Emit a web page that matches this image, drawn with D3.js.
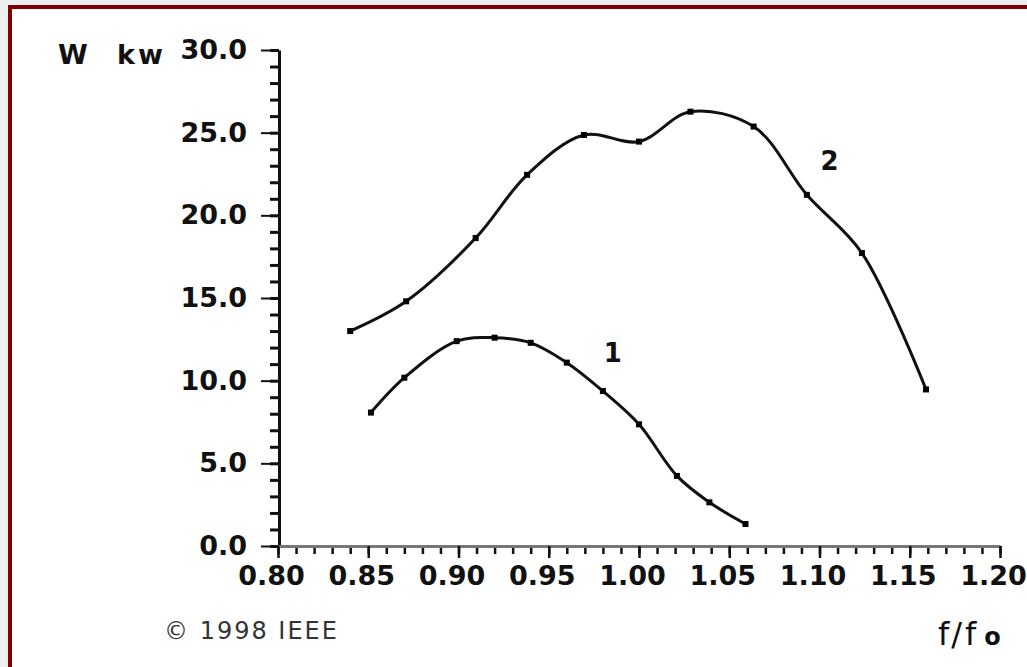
<!DOCTYPE html>
<html><head><meta charset="utf-8">
<script src="https://cdn.jsdelivr.net/npm/d3@7"></script>
<style>html,body{margin:0;padding:0;background:#eeeff1;}svg{display:block;}</style>
</head><body>
<svg id="chart" width="1027" height="667"></svg>
<script>
// ---- data ----
const xTicks = [0.80, 0.85, 0.90, 0.95, 1.00, 1.05, 1.10, 1.15, 1.20];
const yTicks = [0, 5, 10, 15, 20, 25, 30];
const curve1F = [0.8515, 0.870, 0.899, 0.920, 0.940, 0.960, 0.980, 1.000, 1.021, 1.039, 1.059];
const curve1W = [8.07, 10.18, 12.39, 12.6, 12.29, 11.09, 9.37, 7.36, 4.24, 2.64, 1.33];
const curve2F = [0.840, 0.871, 0.9095, 0.938, 0.9695, 1.000, 1.0285, 1.0635, 1.093, 1.1235, 1.159];
const curve2W = [13.0, 14.8, 18.63, 22.45, 24.86, 24.46, 26.27, 25.37, 21.24, 17.72, 9.47];
const curveNames = ["1", "2"];

const svg = d3.select("#chart");
svg.append("rect").attr("x",0).attr("y",0).attr("width",1027).attr("height",667).attr("fill","#eeeff1");
svg.append("rect").attr("x",10).attr("y",7).attr("width",1040).attr("height",700)
  .attr("fill","#ffffff").attr("stroke","#800000").attr("stroke-width",4);

const x = d3.scaleLinear().domain([0.80, 1.20]).range([278, 1000]);
const y = d3.scaleLinear().domain([0, 30]).range([546, 50]);

const fontBold = "'DejaVu Sans', sans-serif";

// y minor ticks
svg.append("g").attr("transform","translate(279,0)")
  .call(d3.axisLeft(y).tickValues(d3.range(0, 31, 1)).tickSize(9).tickFormat(""))
  .call(g => g.select(".domain").remove())
  .selectAll("line").attr("stroke","#111").attr("stroke-width",3);
// y major
const gy = svg.append("g").attr("transform","translate(279,0)")
  .call(d3.axisLeft(y).tickValues(yTicks).tickSize(18).tickPadding(14).tickSizeOuter(0).tickFormat(d3.format(".1f")));
gy.select(".domain").attr("stroke","#111").attr("stroke-width",3);
gy.selectAll("line").attr("stroke","#111").attr("stroke-width",2);
gy.selectAll("text").attr("font-family",fontBold).attr("font-weight","bold").attr("font-size",27).attr("fill","#111");

// x minor ticks
svg.append("g").attr("transform","translate(0,546)")
  .call(d3.axisBottom(x).tickValues(d3.range(80, 121, 1).map(d => d/100)).tickSize(8).tickFormat(""))
  .call(g => g.select(".domain").remove())
  .selectAll("line").attr("stroke","#111").attr("stroke-width",2.5);
// x major
const gx = svg.append("g").attr("transform","translate(0,546)")
  .call(d3.axisBottom(x).tickValues(xTicks).tickSize(12).tickPadding(8).tickSizeOuter(0).tickFormat(d3.format(".2f")));
gx.select(".domain").attr("stroke","#777").attr("stroke-width",3);
gx.selectAll("line").attr("stroke","#111").attr("stroke-width",2.5);
gx.selectAll("text").attr("font-family",fontBold).attr("font-weight","bold").attr("font-size",27)
  .attr("fill","#111").attr("dx",-7);

// curves
const series = [
  {name: curveNames[0], f: curve1F, w: curve1W},
  {name: curveNames[1], f: curve2F, w: curve2W}
];
const line = d3.line().x(d => x(d[0])).y(d => y(d[1])).curve(d3.curveCatmullRom.alpha(0.5));
series.forEach(s => {
  const pts = s.f.map((f,i) => [f, s.w[i]]);
  svg.append("path").datum(pts).attr("d", line).attr("fill","none")
    .attr("stroke","#111").attr("stroke-width",3);
  svg.append("g").selectAll("rect").data(pts).join("rect")
    .attr("x", d => x(d[0]) - 3).attr("y", d => y(d[1]) - 3)
    .attr("width",6).attr("height",6).attr("fill","#000");
});

// curve labels
svg.append("text").attr("x", x(0.9805)).attr("y", y(11.1)).text(curveNames[0])
  .attr("font-family",fontBold).attr("font-weight","bold").attr("font-size",26).attr("fill","#111");
svg.append("text").attr("x", x(1.1005)).attr("y", y(22.75)).text(curveNames[1])
  .attr("font-family",fontBold).attr("font-weight","bold").attr("font-size",26).attr("fill","#111");

// axis titles
svg.append("text").attr("x",58).attr("y",64).text("W")
  .attr("font-family",fontBold).attr("font-weight","bold").attr("font-size",27).attr("fill","#111");
svg.append("text").attr("x",117).attr("y",64).text("kw")
  .attr("font-family",fontBold).attr("font-weight","bold").attr("font-size",27).attr("fill","#111")
  .attr("letter-spacing",3);

const ft = svg.append("text").attr("x",938).attr("y",645)
  .attr("font-family","'DejaVu Sans', sans-serif").attr("font-size",32).attr("fill","#111");
ft.append("tspan").text("f");
ft.append("tspan").attr("dx",2).text("/");
ft.append("tspan").attr("dx",3).text("f");
ft.append("tspan").attr("font-size",24).attr("font-weight","bold").attr("dx",8).text("o");

svg.append("text").attr("x",164).attr("y",639).text("© 1998 IEEE")
  .attr("font-family","'DejaVu Sans', sans-serif").attr("font-size",24).attr("fill","#333")
  .attr("letter-spacing",2);
</script>
</body></html>
